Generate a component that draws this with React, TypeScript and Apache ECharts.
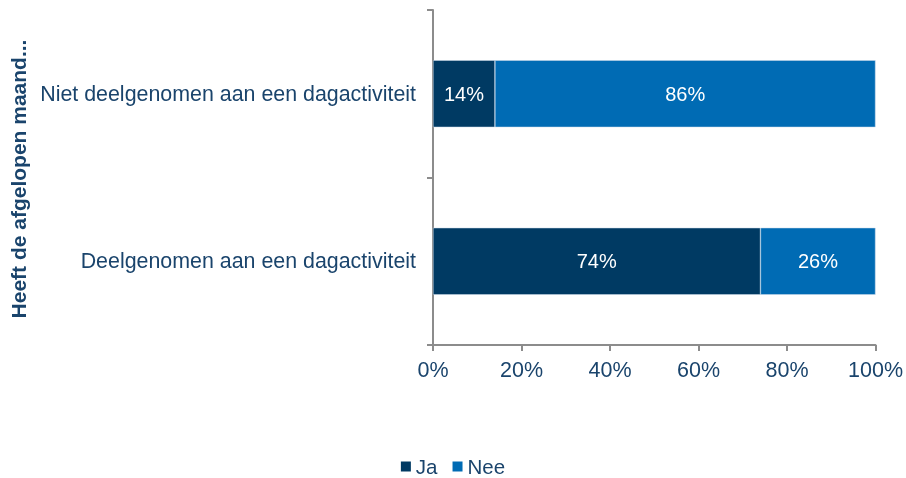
import React, { useEffect, useRef } from "react";
import * as echarts from "echarts";

const categories = ["Deelgenomen aan een dagactiviteit", "Niet deelgenomen aan een dagactiviteit"];
const jaValues = [74, 14];
const neeValues = [26, 86];
const xTicks = [0, 20, 40, 60, 80, 100];
const axisTitle = "Heeft de afgelopen maand...";

const DARK = "#003A63";
const BLUE = "#006BB4";
const TEXT = "#1A446C";
const AXIS = "#8C8C8C";
const FONT = "Liberation Sans, Arial, sans-serif";

export default function App() {
  const ref = useRef<HTMLDivElement>(null);
  useEffect(() => {
    if (!ref.current) return;
    const chart = echarts.init(ref.current, undefined, { renderer: "svg" });
    const label = {
      show: true,
      position: "inside",
      color: "#FFFFFF",
      fontSize: 20,
      fontFamily: FONT,
      formatter: (p: any) => `${p.value}%`,
    };
    chart.setOption({
      animation: false,
      textStyle: { fontFamily: FONT },
      grid: { left: 433, right: 29, top: 10, bottom: 133, containLabel: false },
      legend: {
        top: 451,
        left: "center",
        itemWidth: 10,
        itemHeight: 10,
        itemGap: 15,
        icon: "rect",
        itemStyle: { borderWidth: 0 },
        textStyle: { color: TEXT, fontSize: 20.5, fontFamily: FONT },
        data: ["Ja", "Nee"],
      },
      xAxis: {
        type: "value",
        min: 0,
        max: 100,
        interval: 20,
        axisLine: { show: true, lineStyle: { color: AXIS, width: 2 } },
        axisTick: { show: true, length: 6, lineStyle: { color: AXIS, width: 2 } },
        splitLine: { show: false },
        axisLabel: {
          color: TEXT,
          fontSize: 21.5,
          fontFamily: FONT,
          margin: 14,
          formatter: (v: number) => (xTicks.includes(v) ? `${v}%` : ""),
        },
      },
      yAxis: {
        type: "category",
        data: categories,
        axisLine: { show: true, lineStyle: { color: AXIS, width: 2 } },
        axisTick: { show: true, length: 6, lineStyle: { color: AXIS, width: 2 } },
        axisLabel: { color: TEXT, fontSize: 21.4, fontFamily: FONT, margin: 17 },
      },
      graphic: [
        {
          type: "text",
          x: 18,
          y: 179,
          rotation: Math.PI / 2,
          style: {
            text: axisTitle,
            fill: TEXT,
            fontSize: 21,
            fontWeight: "bold",
            fontFamily: FONT,
            textAlign: "center",
            textVerticalAlign: "middle",
          },
        },
      ],
      series: [
        {
          name: "Ja",
          type: "bar",
          stack: "total",
          data: jaValues,
          barWidth: "40%",
          itemStyle: { color: DARK, borderColor: "#C8D8E8", borderWidth: 0.5 },
          label,
        },
        {
          name: "Nee",
          type: "bar",
          stack: "total",
          data: neeValues,
          barWidth: "40%",
          itemStyle: { color: BLUE, borderColor: "#C8D8E8", borderWidth: 0.5 },
          label,
        },
      ],
    });
    return () => chart.dispose();
  }, []);
  return (
    <div
      ref={ref}
      style={{ position: "fixed", left: 0, top: 0, width: 906, height: 478, overflow: "hidden" }}
    />
  );
}
